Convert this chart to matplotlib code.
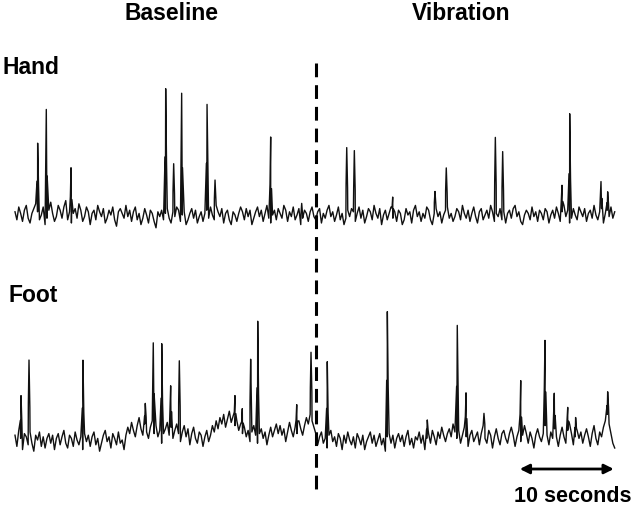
import numpy as np
import matplotlib
matplotlib.use("Agg")
import matplotlib.pyplot as plt

plt.rcParams['font.family'] = ['Liberation Sans', 'DejaVu Sans']

# ---- data (time in seconds, amplitude in arbitrary units) ----
sample_step = 0.2
hand_noise = [
    2, -3, 5, 1, -4, 3, 6, -2, -5, 1, 4, 7, 2, -3, 0, 5, -6, -2, 3, 8,
    1, -4, -1, 6, 3, -2, 5, 9, -3, 2, -5, 1, 4, -2, 7, 3, -4, -1, 5, 2,
    -6, 1, 3, -3, 6, 2, -1, 4, -5, -2, 3, 0, 5, -3, -7, 2, 4, 1, -2, 6,
    -1, 3, -4, 2, 5, -3, 1, -6, -2, 4, 0, -5, 3, 1, -4, -8, 2, -1, 3, -3,
    1, 4, -2, -5, 2, -1, 5, 3, -4, 0, 2, -6, -3, 1, 4, -2, 3, -5, -1, 2,
    -4, 1, 3, -2, 5, 0, -3, 6, 2, -1, 4, -5, 1, 3, -3, -6, 2, 0, -4, 1,
    5, 2, -3, 4, -1, 3, -6, -2, 2, 5, -1, 3, -4, 1, 6, -2, -5, 0, 3, -3,
    4, 1, -2, 6, 3, -4, 2, -1, 5, -3, 0, 4, -6, -2, 3, 1, -4, 2, 5, -1,
    -3, 2, 4, -5, 1, -2, 3, 6, -1, 2, -4, 0, 5, -3, 1, -6, -2, 3, -1, 4,
    2, -4, 1, 5, -2, 3, -5, -1, 4, 2, -3, 6, 1, -2, 4, -6, 0, 3, -3, 1,
    5, -2, 2, -4, 3, 1, -6, -3, 4, 0, 2, -5, 3, 6, -1, 2, -4, 1, -2, 5,
    3, -3, -6, 1, 4, -1, 2, -5, 0, 3, 5, -2, 1, -4, -1, 4, 2, -3, 6, 1,
    -2, 3, -4, 1, 5, -1, -5, 2, 4, -3, 0, 3, -2, 6, 2, -4, 1, -1, 4, -3,
    2, -5, 1, 3, -2, 4, 6, -1, 2, -4, -6, 0, 3, 1, -3, 5, -1, 2, -4, 3,
    1, -3, 4, 2, -5, 0, 3, -2, 5, 1, -4, 2, 6, -1, 3, -5, -2, 4, 0, -3,
    5, 2, -1, 4, -4, 1, 3, -2, 6, 0, -3, 2, 4, -5, 1, 3, -1, 5, -2, 2,
]
foot_noise = [
    3, -4, 6, 1, -6, 4, 2, -3, 5, -2, -7, 3, 0, 5, -4, 2, -5, 1, 4, -2,
    3, -6, 1, 4, -3, 2, 6, -2, -5, 3, 1, -4, 5, 0, -3, 2, -6, 4, -1, 3,
    -4, 2, 5, -3, 1, -7, -2, 3, 6, -1, 2, -5, 4, 1, -3, 5, -2, 0, -6, 3,
    8, 4, 11, 6, 2, 9, 14, 7, 3, 10, 5, 1, 8, 12, 4, 9, 2, 6, -2, 4,
    7, 11, 3, 8, 1, 6, 10, 4, -1, 5, 9, 2, 7, -3, 4, 8, 1, -2, 5, 3,
    -4, 2, 6, -1, 3, 9, 5, 12, 7, 14, 10, 16, 8, 13, 18, 11, 15, 9, 12, 6,
    10, 4, 8, 2, 6, -1, 5, 9, 3, -2, 4, 7, 1, 5, -3, 3, 8, 2, 6, 10,
    4, 9, 3, 7, -1, 5, 11, 6, 2, 8, 4, 12, 7, 3, 9, 14, 10, 16, 12, 8,
    4, -3, 2, 5, -2, 1, -5, 3, 6, -1, 2, -4, 4, 1, -6, 3, -2, 5, 0, -3,
    2, -5, 4, 1, -3, 3, -6, -1, 2, 5, -2, 3, -4, 0, 4, -3, 1, -7, 2, 4,
    -2, 3, -5, 1, 4, -1, 3, -4, 2, 6, -3, 1, -5, 2, 0, 5, -2, 3, -6, 1,
    4, -2, 6, 2, -3, 5, 1, 8, 3, -1, 4, 7, 2, 10, 5, 1, 6, -2, 3, 8,
    2, -4, 3, 6, -1, 2, 5, -3, 4, 9, 1, -2, 6, 3, -5, 2, 7, 1, -3, 4,
    6, 1, -2, 4, 8, 3, -4, 2, 6, -1, 3, 9, 4, -2, 5, 1, -5, 3, 7, 2,
    -1, 4, 9, 3, -3, 5, 1, 7, 2, -4, 3, 8, 2, -2, 6, 10, 4, -3, 2, 6,
    1, 5, -2, 3, 7, 2, -4, 4, 9, 1, -3, 5, 2, 8, 12, 16, 10, 4, -2, -5,
]
hand_spike_t = [2.41, 3.33, 5.96, 16.03, 16.88, 17.73, 20.43, 21.28, 27.20, 30.50,
                35.29, 36.10, 40.18, 44.68, 45.88, 51.10, 51.88, 58.19, 59.01, 62.34, 63.05]
hand_spike_a = [69, 111, 53, 124, 50, 124, 107, 34, 86, 18,
                67, 66, 20, 20, 41, 80, 65, 27, 109, 28, 20]
foot_spike_t = [0.64, 1.49, 7.23, 13.86, 14.71, 15.61, 16.56, 17.48, 23.40, 24.18,
                25.07, 25.82, 29.97, 31.49, 33.22, 39.61, 43.86, 47.05, 47.98, 49.89,
                53.80, 56.38, 57.37, 58.80, 59.64, 63.05]
foot_spike_a = [45, 79, 87, 23, 85, 99, 43, 76, 30, 24,
                79, 121, 28, 65, 85, 125, 17, 111, 43, 18,
                61, 86, 37, 23, 18, 25]

condition_labels = ["Baseline", "Vibration"]
site_labels = ["Hand", "Foot"]
stim_onset = 32.02
scale_bar_s = 10

noise_gain = 1.6   # noise list is in units of 1/1.6 of the spike units


def build_trace(noise, spike_t, spike_a):
    nt = np.arange(len(noise)) * sample_step
    nv = np.asarray(noise, dtype=float) * noise_gain
    ts = [nt]
    vs = [nv]
    for t, a in zip(spike_t, spike_a):
        base = np.interp(t, nt, nv)
        ts.append(np.array([t - 0.07, t, t + 0.09]))
        vs.append(np.array([base + 0.45 * a, base + a, base + 0.4 * a]))
    t_all = np.concatenate(ts)
    v_all = np.concatenate(vs)
    order = np.argsort(t_all, kind="stable")
    return t_all[order], v_all[order]


W, H = 638, 509
fig = plt.figure(figsize=(W / 100, H / 100), dpi=100)
ax = fig.add_axes([0, 0, 1, 1])
px_per_s = 9.4
ax.set_xlim(-15 / px_per_s, (W - 15) / px_per_s)
ax.set_ylim(-H, 0)
ax.axis("off")

hand_offset = -215
foot_offset = -440

th, vh = build_trace(hand_noise, hand_spike_t, hand_spike_a)
tf, vf = build_trace(foot_noise, foot_spike_t, foot_spike_a)
ax.plot(th, vh + hand_offset, color="#111111", lw=1.0)
ax.plot(tf, vf + foot_offset, color="#111111", lw=1.0)

# stimulus onset dashed line
ax.plot([stim_onset, stim_onset], [-63, -490], color="black", lw=2.2,
        dashes=(4.5, 2.6), solid_capstyle="butt", dash_capstyle="butt")


def ftext(px, py, s, **kw):
    fig.text(px / W, 1 - py / H, s, fontweight="bold", **kw)


ftext(172, 13, condition_labels[0], ha="center", va="center", fontsize=16.5)
ftext(461, 13, condition_labels[1], ha="center", va="center", fontsize=16.5)
ftext(3, 68, site_labels[0], ha="left", va="center", fontsize=16.5)
ftext(8, 295, site_labels[1], ha="left", va="center", fontsize=16.5)

# scale bar
x_end = 63.7
ax.annotate("", xy=(x_end, -469), xytext=(x_end - scale_bar_s, -469),
            arrowprops=dict(arrowstyle="<|-|>", color="black", lw=2,
                            mutation_scale=14, shrinkA=0, shrinkB=0))
ftext(573, 497, f"{scale_bar_s} seconds", ha="center", va="center", fontsize=15.5)

fig.savefig("out.png", dpi=100)
